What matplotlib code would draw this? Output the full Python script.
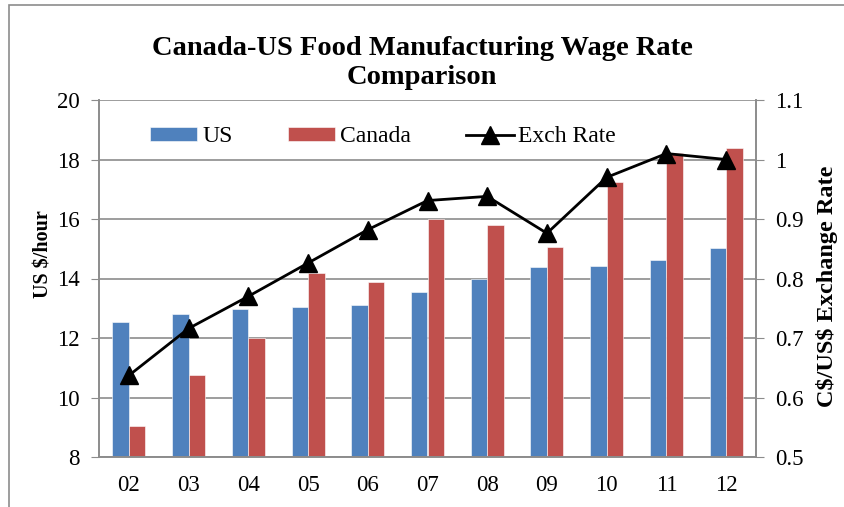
import numpy as np
import matplotlib.pyplot as plt
from matplotlib.patches import Rectangle

plt.rcParams['font.family'] = ['Liberation Serif', 'DejaVu Serif']

# 年份 (2002-2012)
years = ["02", "03", "04", "05", "06", "07", "08", "09", "10", "11", "12"]
us_wage = [12.55, 12.79, 12.97, 13.04, 13.12, 13.55, 14.00, 14.38, 14.41, 14.62, 15.04]
canada_wage = [9.03, 10.74, 12.00, 14.17, 13.87, 16.00, 15.80, 15.05, 17.24, 18.23, 18.39]
exch_rate = [0.637, 0.716, 0.770, 0.826, 0.882, 0.931, 0.938, 0.876, 0.970, 1.010, 1.000]

blue = "#4F81BD"
red = "#C0504D"
grid_c = "#8C8C8C"

fig = plt.figure(figsize=(8.44, 5.07), dpi=100)
ax = fig.add_axes([99 / 844, 1 - 457 / 507, 657 / 844, 357 / 507])
ax2 = ax.twinx()

x = np.arange(len(years))
w = 0.276
ax.bar(x - w / 2, us_wage, w, color=blue, edgecolor="white", linewidth=0.4, label="US", zorder=2)
ax.bar(x + w / 2, canada_wage, w, color=red, edgecolor="white", linewidth=0.4, label="Canada", zorder=2)

ax.set_xlim(-0.5, len(years) - 0.5)
ax.set_ylim(8, 20)
ax.set_yticks(np.arange(8, 21, 2))
ax.set_xticks(x)
ax.set_xticklabels(years)
ax.grid(axis="y", color=grid_c, linewidth=1.2, zorder=0)
ax.set_axisbelow(True)
ax.tick_params(axis="x", length=0, labelsize=16.5, pad=13)
ax.tick_params(axis="y", length=6, color=grid_c, labelsize=16.5, pad=8)
ax.set_ylabel("US $/hour", fontsize=14.5, fontweight="bold")
ax.yaxis.set_label_coords(-0.07, 0.569)

ax2.plot(x, exch_rate, color="black", linewidth=2, marker="^", markersize=13, label="Exch Rate", zorder=3)
ax2.set_ylim(0.5, 1.1)
ax2.set_yticks(np.arange(0.5, 1.11, 0.1))
ax2.set_yticklabels(["0.5", "0.6", "0.7", "0.8", "0.9", "1", "1.1"])
ax2.tick_params(axis="y", length=6, color=grid_c, labelsize=16.5, pad=8)
ax2.set_ylabel(r"C\$/US\$ Exchange Rate", fontsize=17.5, fontweight="bold")
ax2.yaxis.set_label_coords(1.092, 0.479)

for a in (ax, ax2):
    a.spines["top"].set_visible(False)
    for s in ("left", "right", "bottom"):
        a.spines[s].set_color(grid_c)
        a.spines[s].set_linewidth(1.2)

handles = ax.get_legend_handles_labels()[0] + ax2.get_legend_handles_labels()[0]
labels = ["US", "Canada", "Exch Rate"]
ax.legend(handles, labels, loc="upper left", bbox_to_anchor=(129 / 844, 1 - 105 / 507),
          bbox_transform=fig.transFigure, ncol=3, frameon=False,
          fontsize=17, handlelength=2.0, handleheight=0.5, handletextpad=0.2, columnspacing=2.35)

fig.text(0.5, 1 - 63 / 507, "Canada-US Food Manufacturing Wage Rate\nComparison", ha="center", va="center",
         fontsize=20.5, fontweight="bold", linespacing=1.2)

# 外框
fig.patches.append(Rectangle((9 / 844, -0.01), 1.2, 1.0, transform=fig.transFigure, fill=False,
                             edgecolor=grid_c, linewidth=1.2))

fig.savefig("out.png", dpi=100)
